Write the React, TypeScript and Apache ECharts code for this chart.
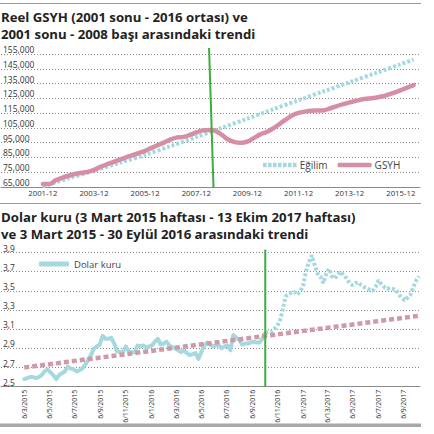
import React, { useEffect, useRef } from "react";
import * as echarts from "echarts";

// ---------- Top chart: Reel GSYH (quarterly, index 0 = 2001-12) ----------
const gdpTickQuarters = [0, 8, 16, 24, 32, 40, 48, 56];
const gdpTickLabels = ["2001-12", "2003-12", "2005-12", "2007-12", "2009-12", "2011-12", "2013-12", "2015-12"];
const gdpValues = [
  67000, 67000, 69500, 71200, 72600, 73800, 74600, 75200, 76600, 78600,
  80300, 81900, 83500, 85100, 86500, 88000, 89500, 91500, 93400, 95200,
  97200, 98600, 98900, 100200, 101900, 103300, 103600, 103000, 100300, 97100,
  95400, 94900, 95700, 98100, 100600, 102200, 104600, 107600, 110600, 113400,
  115100, 116000, 116600, 116800, 117000, 118300, 119800, 121100, 122300, 123300,
  124400, 124900, 125400, 126200, 127500, 128900, 130500, 132300, 134000,
];
const gdpTrendQuarters = [0, 4, 8, 12, 16, 20, 24, 28, 32, 36, 40, 44, 48, 52, 56, 58];
const gdpTrendValues = [
  65500, 70800, 76000, 81300, 86700, 92700, 98800, 105000, 111300, 117600,
  123700, 129800, 135900, 142000, 148100, 151200,
];
const gdpYMin = 65000;
const gdpYMax = 155000;
const gdpYStep = 10000;
const gdpMarkerQuarters = [26.0, 26.7];
const gdpMarkerValues = [159000, 64400];

// ---------- Bottom chart: Dolar kuru (weekly from 2015-03-06) ----------
const usdStart = "2015-03-06";
const usdValues = [
  2.58, 2.59, 2.6, 2.6, 2.59, 2.6, 2.62, 2.66, 2.68, 2.65,
  2.62, 2.58, 2.62, 2.64, 2.66, 2.71, 2.69, 2.68, 2.66, 2.67,
  2.69, 2.73, 2.78, 2.83, 2.9, 2.92, 2.94, 3.03, 3.0, 3.0,
  3.01, 2.95, 2.87, 2.86, 2.86, 2.92, 2.87, 2.86, 2.86, 2.93,
  2.92, 2.93, 2.91, 2.92, 2.93, 2.97, 3.0, 2.94, 2.95, 2.97,
  2.93, 2.91, 2.9, 2.88, 2.86, 2.88, 2.85, 2.83, 2.84, 2.85,
  2.79, 2.86, 2.93, 2.96, 2.94, 2.92, 2.93, 2.93, 2.9, 2.92,
  2.93, 2.88, 3.04, 3.01, 2.99, 2.94, 2.95, 2.95, 2.96, 2.97,
  2.96, 2.96, 3.0, 3.06, 3.07, 3.07, 3.1, 3.13, 3.18, 3.3,
  3.44, 3.47, 3.48, 3.49, 3.46, 3.49, 3.55, 3.7, 3.8, 3.87,
  3.77, 3.68, 3.65, 3.58, 3.68, 3.73, 3.65, 3.63, 3.67, 3.7,
  3.66, 3.63, 3.58, 3.56, 3.58, 3.59, 3.56, 3.54, 3.53, 3.51,
  3.5, 3.54, 3.61, 3.57, 3.54, 3.52, 3.53, 3.52, 3.51, 3.46,
  3.43, 3.4, 3.43, 3.46, 3.54, 3.61, 3.65,
];
const usdBreakWeek = 83;
const usdTrendDates = ["2015-03-06", "2017-10-13"];
const usdTrendValues = [2.7, 3.24];
const usdTickDates = [
  "2015-03-06", "2015-05-06", "2015-07-06", "2015-09-06", "2015-11-06",
  "2016-01-06", "2016-03-06", "2016-05-06", "2016-07-06", "2016-09-06",
  "2016-11-06", "2017-01-06", "2017-03-06", "2017-05-06", "2017-07-06", "2017-09-06",
];
const usdTickLabels = [
  "6/3/2015", "6/5/2015", "6/7/2015", "6/9/2015", "6/11/2015",
  "6/1/2016", "6/3/2016", "6/5/2016", "6/7/2016", "6/9/2016",
  "6/11/2016", "6/1/2017", "6/13/2017", "6/5/2017", "6/7/2017", "6/9/2017",
];
const usdYMin = 2.5;
const usdYMax = 3.9;
const usdYStep = 0.2;
const usdMarkerDate = "2016-10-07";
const usdMarkerValues = [3.93, 2.5];

const DAY = 86400000;
const dayOf = (iso: string) => {
  const [y, m, d] = iso.split("-").map(Number);
  const [y0, m0, d0] = usdStart.split("-").map(Number);
  return Math.round((Date.UTC(y, m - 1, d) - Date.UTC(y0, m0 - 1, d0)) / DAY);
};

const FONT = "Open Sans";
const GRID_COLOR = "#8a8a8a";
const LABEL_COLOR = "#333";
const PINK = "#d68ea2";
const BLUE = "#a6d9df";
const GREEN = "#3aae3f";

// dotted legend icon: 7 small squares in a 34 x 4.5 box
const dottedIcon =
  "path://" +
  [0, 5, 10, 15, 20, 25, 30].map((x) => `M${x},0h3.6v4.5h-3.6Z`).join(" ");

export default function App() {
  const ref = useRef<HTMLDivElement>(null);

  useEffect(() => {
    if (!ref.current) return;
    const chart = echarts.init(ref.current, null, { renderer: "svg" });

    const usdTickDays = usdTickDates.map(dayOf);
    const usdSolid = usdValues.slice(0, usdBreakWeek + 1).map((v, i) => [i * 7, v]);
    const usdDotted = usdValues.slice(usdBreakWeek).map((v, k) => [(k + usdBreakWeek) * 7, v]);
    const markerDay = dayOf(usdMarkerDate);

    const yAxisCommon = (gridIndex: number, min: number, max: number, interval: number, fmt: (v: number) => string) => ({
      type: "value",
      gridIndex,
      min,
      max,
      interval,
      axisLine: { show: false, onZero: false },
      axisTick: { show: false },
      splitLine: { show: true, lineStyle: { color: GRID_COLOR, type: [1, 2], width: 1 } },
      axisLabel: {
        inside: true,
        margin: 2,
        verticalAlign: "bottom",
        lineHeight: 9,
        fontSize: 8.5,
        color: LABEL_COLOR,
        fontFamily: FONT,
        formatter: fmt,
      },
    });

    const titleStyle = { fontFamily: FONT, fontWeight: "bold", fontSize: 13.2, lineHeight: 17, color: "#222" };

    chart.setOption({
      animation: false,
      backgroundColor: "#ffffff",
      textStyle: { fontFamily: FONT },
      title: [
        {
          text: "Reel GSYH (2001 sonu - 2016 ortası) ve\n2001 sonu - 2008 başı arasındaki trendi",
          left: 1,
          top: 8,
          padding: 0,
          textStyle: titleStyle,
        },
        {
          text: "Dolar kuru (3 Mart 2015 haftası - 13 Ekim 2017 haftası)\nve 3 Mart 2015 - 30 Eylül 2016 arasındaki trendi",
          left: 1,
          top: 208,
          padding: 0,
          textStyle: titleStyle,
        },
      ],
      legend: [
        {
          data: [
            { name: "Eğilim", icon: dottedIcon, itemStyle: { color: BLUE } },
            { name: "GSYH", icon: "roundRect", itemStyle: { color: PINK } },
          ],
          left: 263,
          top: 160,
          padding: 0,
          itemWidth: 34,
          itemHeight: 4.5,
          itemGap: 10,
          textStyle: { fontSize: 10, color: "#444", fontFamily: FONT, padding: [0, 0, 0, -2] },
        },
        {
          data: [{ name: "Dolar kuru", icon: "roundRect", itemStyle: { color: BLUE } }],
          left: 39,
          top: 259,
          padding: 0,
          itemWidth: 30,
          itemHeight: 5,
          textStyle: { fontSize: 9.5, color: "#444", fontFamily: FONT },
        },
      ],
      grid: [
        { left: 0, top: 54, width: 420, height: 133 },
        { left: 0, top: 252.5, width: 420, height: 134.2 },
      ],
      xAxis: [
        {
          type: "value",
          gridIndex: 0,
          min: -6.55,
          max: 59,
          splitLine: { show: false },
          axisTick: { show: false, customValues: gdpTickQuarters },
          axisLine: { show: true, onZero: false, lineStyle: { color: GRID_COLOR, width: 1 } },
          axisLabel: {
            customValues: gdpTickQuarters,
            margin: 2,
            fontSize: 7.8,
            color: LABEL_COLOR,
            fontFamily: FONT,
            formatter: (v: number) => gdpTickLabels[gdpTickQuarters.indexOf(Math.round(v))] ?? "",
          },
        },
        {
          type: "value",
          gridIndex: 1,
          min: -56,
          max: 954,
          splitLine: { show: false },
          axisTick: { show: false, customValues: usdTickDays },
          axisLine: { show: true, onZero: false, lineStyle: { color: GRID_COLOR, width: 1 } },
          axisLabel: {
            customValues: usdTickDays,
            rotate: 90,
            margin: 3,
            fontSize: 7,
            color: LABEL_COLOR,
            fontFamily: FONT,
            formatter: (v: number) => usdTickLabels[usdTickDays.indexOf(Math.round(v))] ?? "",
          },
        },
      ],
      yAxis: [
        yAxisCommon(0, gdpYMin, gdpYMax, gdpYStep, (v: number) => v.toLocaleString("en-US")),
        yAxisCommon(1, usdYMin, usdYMax, usdYStep, (v: number) => v.toFixed(1).replace(".", ",")),
      ],
      series: [
        {
          name: "Eğilim",
          type: "line",
          xAxisIndex: 0,
          yAxisIndex: 0,
          data: gdpTrendQuarters.map((q, i) => [q, gdpTrendValues[i]]),
          symbol: "none",
          smooth: 0.3,
          lineStyle: { color: BLUE, width: 4, type: [3, 2], cap: "butt" },
          itemStyle: { color: BLUE },
        },
        {
          name: "GSYH",
          type: "line",
          xAxisIndex: 0,
          yAxisIndex: 0,
          data: gdpValues.map((v, q) => [q, v]),
          symbol: "none",
          smooth: 0.4,
          lineStyle: { color: PINK, width: 4.5, cap: "round" },
          itemStyle: { color: PINK },
        },
        {
          name: "gdpMarker",
          type: "line",
          xAxisIndex: 0,
          yAxisIndex: 0,
          data: gdpMarkerQuarters.map((q, i) => [q, gdpMarkerValues[i]]),
          symbol: "none",
          clip: false,
          silent: true,
          lineStyle: { color: GREEN, width: 2 },
          z: 5,
        },
        {
          name: "Dolar kuru",
          type: "line",
          xAxisIndex: 1,
          yAxisIndex: 1,
          data: usdSolid,
          symbol: "none",
          lineStyle: { color: BLUE, width: 4, cap: "round", join: "round" },
          itemStyle: { color: BLUE },
        },
        {
          name: "Dolar kuru (devam)",
          type: "line",
          xAxisIndex: 1,
          yAxisIndex: 1,
          data: usdDotted,
          symbol: "none",
          lineStyle: { color: BLUE, width: 4, type: [3, 2], cap: "butt" },
          itemStyle: { color: BLUE },
        },
        {
          name: "usdTrend",
          type: "line",
          xAxisIndex: 1,
          yAxisIndex: 1,
          data: usdTrendDates.map((d, i) => [dayOf(d), usdTrendValues[i]]),
          symbol: "none",
          lineStyle: { color: "#cf99a8", width: 4.5, type: [5, 3], cap: "butt" },
          itemStyle: { color: "#cf99a8" },
        },
        {
          name: "usdMarker",
          type: "line",
          xAxisIndex: 1,
          yAxisIndex: 1,
          data: usdMarkerValues.map((v) => [markerDay, v]),
          symbol: "none",
          clip: false,
          silent: true,
          lineStyle: { color: GREEN, width: 2 },
          z: 5,
        },
      ],
      graphic: [
        { type: "line", shape: { x1: 0, y1: 3.5, x2: 421, y2: 3.5 }, style: { stroke: "#9a9a9a", lineWidth: 1 } },
        { type: "line", shape: { x1: 0, y1: 203.5, x2: 421, y2: 203.5 }, style: { stroke: "#9a9a9a", lineWidth: 1 } },
        { type: "rect", shape: { x: 0, y: 423.5, width: 421, height: 3.5 }, style: { fill: "#a8a8a8" } },
      ],
    });

    return () => chart.dispose();
  }, []);

  return (
    <div
      ref={ref}
      style={{ position: "absolute", left: 0, top: 0, width: 434, height: 434, background: "#fff" }}
    />
  );
}
